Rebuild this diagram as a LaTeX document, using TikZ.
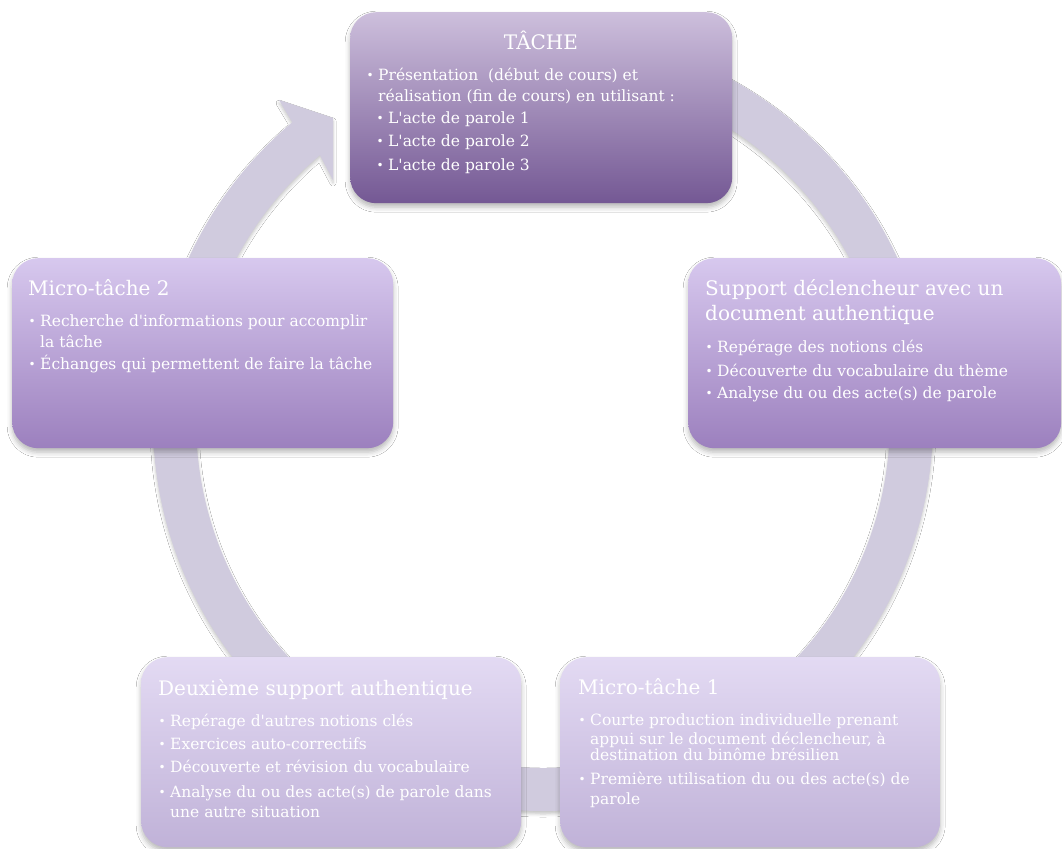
\documentclass[tikz,border=0pt]{standalone}
\usepackage{fontspec}
\setmainfont{DejaVu Serif}[Ligatures=TeXOff]
\usetikzlibrary{calc,shadows.blur}
\definecolor{ringc}{RGB}{208,203,222}
\definecolor{tacheTop}{RGB}{205,191,220}
\definecolor{tacheBot}{RGB}{116,88,148}
\definecolor{midTop}{RGB}{215,200,238}
\definecolor{midBot}{RGB}{156,128,190}
\definecolor{lowTop}{RGB}{227,218,243}
\definecolor{lowBot}{RGB}{192,178,216}
\newcommand\bul{\makebox[10pt][l]{\hspace*{-1.5pt}\raisebox{0.8pt}{\fontsize{12}{12}\selectfont •}}}
\newcommand\cnt{\hspace*{10pt}}
\tikzset{
  softshadow/.style={blur shadow={shadow xshift=0pt,shadow yshift=-4pt,shadow blur radius=5pt,shadow opacity=28}},
  box/.style={rectangle,rounded corners=26pt,draw=none,inner sep=0pt,anchor=north west,softshadow},
  tbox/.style={box,top color=tacheTop,bottom color=tacheBot},
  mbox/.style={box,top color=midTop,bottom color=midBot},
  lbox/.style={box,top color=lowTop,bottom color=lowBot},
  ttl/.style={text=white,font=\fontsize{20}{25}\selectfont,inner sep=0pt,anchor=north west,align=left},
  body/.style={text=white,font=\fontsize{15.5}{21}\selectfont,inner sep=0pt,anchor=north west,align=left},
}
\begin{document}
\begin{tikzpicture}[x=1pt,y=-1pt]
\fill[white] (0,0) rectangle (1062,848);
\useasboundingbox (0,0) rectangle (1062,848);
\coordinate (c) at (543,421);
\coordinate (barbA) at (279,100);
\coordinate (tipA) at (333,118);
\coordinate (tipB) at (333,180);
% ring with arrow
\path[fill=ringc,blur shadow={shadow xshift=0pt,shadow yshift=-3pt,shadow blur radius=3pt,shadow opacity=22}]
  ($(c)+(-90:390)$) arc[start angle=-90,end angle=230,radius=390]
  -- (barbA) -- (tipA) -- (tipB)
  -- ($(c)+(230:347)$) arc[start angle=230,end angle=-90,radius=347] -- cycle;
% boxes
\node[tbox,minimum width=382pt,minimum height=191pt] (tache) at (350,12) {};
\node[mbox,minimum width=381pt,minimum height=190pt] (micro2) at (12,258) {};
\node[mbox,minimum width=373pt,minimum height=190pt] (support) at (688,258) {};
\node[lbox,minimum width=380pt,minimum height=190pt] (deux) at (141,657) {};
\node[lbox,minimum width=380pt,minimum height=190pt] (micro1) at (560,657) {};
% TACHE
\node[text=white,font=\fontsize{20}{25}\selectfont,inner sep=0pt,anchor=base] (tacheT) at (541,50) {TÂCHE};
\node[body] (tacheB) at (368,65.3) {\strut\bul Présentation\ \ (début de cours) et\\[0.5pt]
\cnt réalisation (fin de cours) en utilisant :\\[0.5pt]
\cnt\bul L'acte de parole 1\\[2.5pt]
\cnt\bul L'acte de parole 2\\[2.5pt]
\cnt\bul L'acte de parole 3};
% Micro-tache 2
\node[ttl] (micro2T) at (28,277.5) {\strut Micro-tâche 2};
\node[body] (micro2B) at (30,311.3) {\strut\bul Recherche d'informations pour accomplir\\
\cnt la tâche\\[1pt]
\bul Échanges qui permettent de faire la tâche};
% Support
\node[ttl] (supportT) at (705,277.5) {\strut Support déclencheur avec un\\document authentique};
\node[body] (supportB) at (707,337.3) {\strut\bul Repérage des notions clés\\[3pt]
\bul Découverte du vocabulaire du thème\\[1pt]
\bul Analyse du ou des acte(s) de parole};
% Deuxieme
\node[ttl] (deuxT) at (158,677.5) {\strut Deuxième support authentique};
\node[body] (deuxB) at (160,711.3) {\strut\bul Repérage d'autres notions clés\\[2pt]
\bul Exercices auto-correctifs\\[2pt]
\bul Découverte et révision du vocabulaire\\[4pt]
\bul Analyse du ou des acte(s) de parole dans\\[-1pt]
\cnt une autre situation};
% Micro-tache 1
\node[ttl] (micro1T) at (578,676.5) {\strut Micro-tâche 1};
\node[body] (micro1B) at (580,710.3) {\strut\bul Courte production individuelle prenant\\[-2pt]
\cnt appui sur le document déclencheur, à\\[-5pt]
\cnt destination du binôme brésilien\\[3pt]
\bul Première utilisation du ou des acte(s) de\\[-1pt]
\cnt parole};
\end{tikzpicture}
\end{document}
